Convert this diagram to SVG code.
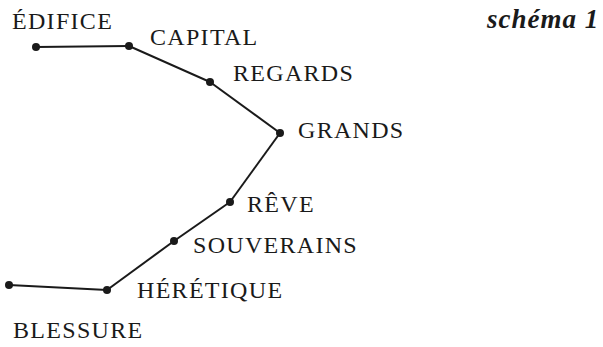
<svg xmlns="http://www.w3.org/2000/svg" width="603" height="347" viewBox="0 0 603 347">
<style>
.lbl{font-family:"Liberation Serif","Times New Roman",serif;font-size:24px;letter-spacing:1.3px;fill:#1a1a1a}
.ttl{font-family:"Liberation Serif","Times New Roman",serif;font-size:27px;font-weight:bold;font-style:italic;letter-spacing:1px;fill:#1a1a1a}
.dot{fill:#1a1a1a}
.edge{stroke:#1a1a1a;stroke-width:2;fill:none}
</style>
<rect width="603" height="347" fill="#fff"/>
<g id="connectors">
<line class="edge" x1="36" y1="47" x2="129" y2="46"/>
<line class="edge" x1="129" y1="46" x2="210" y2="82"/>
<line class="edge" x1="210" y1="82" x2="280" y2="133"/>
<line class="edge" x1="280" y1="133" x2="230" y2="202"/>
<line class="edge" x1="230" y1="202" x2="174" y2="241"/>
<line class="edge" x1="174" y1="241" x2="107" y2="290"/>
<line class="edge" x1="107" y1="290" x2="9" y2="285"/>
</g>
<g id="edifice"><circle class="dot" cx="36" cy="47" r="4"/><text class="lbl" x="12" y="29">ÉDIFICE</text></g>
<g id="capital"><circle class="dot" cx="129" cy="46" r="4"/><text class="lbl" x="150" y="45">CAPITAL</text></g>
<g id="regards"><circle class="dot" cx="210" cy="82" r="4"/><text class="lbl" x="233" y="81">REGARDS</text></g>
<g id="grands"><circle class="dot" cx="280" cy="133" r="4"/><text class="lbl" x="298" y="138">GRANDS</text></g>
<g id="reve"><circle class="dot" cx="230" cy="202" r="4"/><text class="lbl" x="247" y="212">RÊVE</text></g>
<g id="souverains"><circle class="dot" cx="174" cy="241" r="4"/><text class="lbl" x="193" y="253">SOUVERAINS</text></g>
<g id="heretique"><circle class="dot" cx="107" cy="290" r="4"/><text class="lbl" x="137" y="298">HÉRÉTIQUE</text></g>
<g id="blessure"><circle class="dot" cx="9" cy="285" r="4"/><text class="lbl" x="13" y="338">BLESSURE</text></g>
<g id="title"><text class="ttl" x="487" y="28">schéma 1</text></g>
</svg>
